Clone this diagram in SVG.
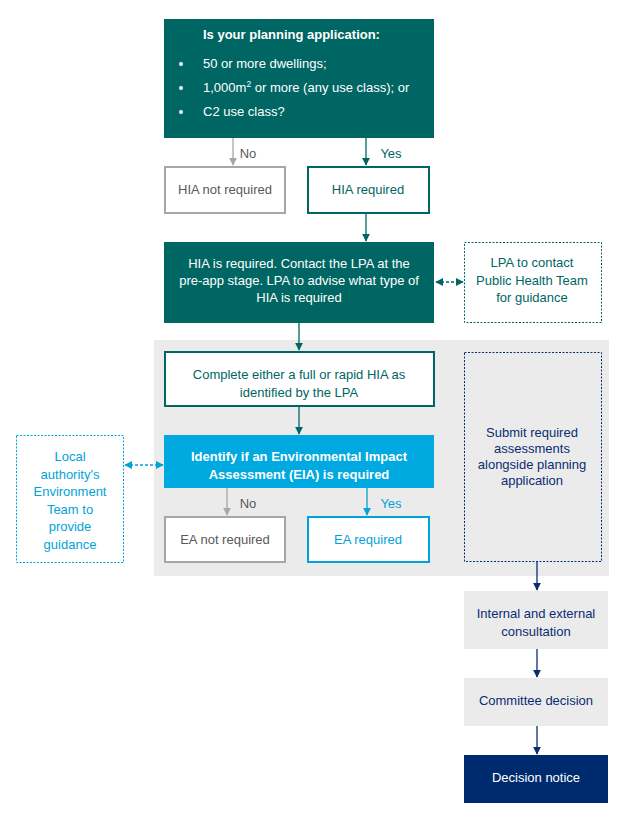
<svg xmlns="http://www.w3.org/2000/svg" width="623" height="819" viewBox="0 0 623 819">
<style>
text{font-family:"Liberation Sans",Arial,sans-serif;font-size:13px;text-anchor:middle}
.w{fill:#ffffff}
.t{fill:#006663}
.g{fill:#595959}
.b{fill:#00a3d9}
.n{fill:#0a2d72}
.bold{font-weight:bold}
</style>
<defs>
<marker id="aT" viewBox="0 0 10 10" refX="9" refY="5" markerWidth="6" markerHeight="6" orient="auto"><path d="M0,0L10,5L0,10z" fill="#006663"/></marker>
<marker id="aG" viewBox="0 0 10 10" refX="9" refY="5" markerWidth="6" markerHeight="6" orient="auto"><path d="M0,0L10,5L0,10z" fill="#a6a6a6"/></marker>
<marker id="aB" viewBox="0 0 10 10" refX="9" refY="5" markerWidth="6" markerHeight="6" orient="auto"><path d="M0,0L10,5L0,10z" fill="#00a3d9"/></marker>
<marker id="aN" viewBox="0 0 10 10" refX="9" refY="5" markerWidth="6" markerHeight="6" orient="auto"><path d="M0,0L10,5L0,10z" fill="#0a2d72"/></marker>
<marker id="aTs" viewBox="0 0 10 10" refX="1" refY="5" markerWidth="6" markerHeight="6" orient="auto"><path d="M10,0L0,5L10,10z" fill="#006663"/></marker>
<marker id="aBs" viewBox="0 0 10 10" refX="1" refY="5" markerWidth="6" markerHeight="6" orient="auto"><path d="M10,0L0,5L10,10z" fill="#00a3d9"/></marker>
</defs>
<rect id="bg-panel" x="154" y="340" width="455" height="236" fill="#ebebeb"/>
<g id="connectors" fill="none" stroke-width="1.3">
<line x1="233" y1="138" x2="233" y2="165" stroke="#a6a6a6" marker-end="url(#aG)"/>
<line x1="366" y1="138" x2="366" y2="165" stroke="#006663" marker-end="url(#aT)"/>
<line x1="366" y1="214" x2="366" y2="241" stroke="#006663" marker-end="url(#aT)"/>
<line x1="436" y1="282" x2="463" y2="282" stroke="#006663" stroke-dasharray="3,2" marker-start="url(#aTs)" marker-end="url(#aT)"/>
<line x1="299" y1="323" x2="299" y2="350" stroke="#006663" marker-end="url(#aT)"/>
<line x1="299" y1="407" x2="299" y2="434" stroke="#006663" marker-end="url(#aT)"/>
<line x1="125" y1="465" x2="163" y2="465" stroke="#00a3d9" stroke-dasharray="3,2" marker-start="url(#aBs)" marker-end="url(#aB)"/>
<line x1="227" y1="488" x2="227" y2="515" stroke="#a6a6a6" marker-end="url(#aG)"/>
<line x1="367" y1="488" x2="367" y2="515" stroke="#00a3d9" marker-end="url(#aB)"/>
<line x1="537" y1="562" x2="537" y2="590" stroke="#0a2d72" marker-end="url(#aN)"/>
<line x1="537" y1="649" x2="537" y2="677" stroke="#0a2d72" marker-end="url(#aN)"/>
<line x1="537" y1="726" x2="537" y2="754" stroke="#0a2d72" marker-end="url(#aN)"/>
</g>
<g id="labels">
<text x="248" y="158" class="g">No</text>
<text x="391" y="158" class="t">Yes</text>
<text x="248" y="508" class="g">No</text>
<text x="391" y="508" class="b">Yes</text>
</g>
<g id="question">
<rect x="164" y="19" width="270" height="119" fill="#006663"/>
<text x="203" y="39" class="w bold" style="text-anchor:start">Is your planning application:</text>
<circle cx="181" cy="64" r="2" fill="#ffffff"/>
<circle cx="181" cy="88" r="2" fill="#ffffff"/>
<circle cx="181" cy="112" r="2" fill="#ffffff"/>
<text x="203" y="68" class="w" style="text-anchor:start">50 or more dwellings;</text>
<text x="203" y="92" class="w" style="text-anchor:start">1,000m<tspan dy="-5" font-size="8.5">2</tspan><tspan dy="5"> or more (any use class); or</tspan></text>
<text x="203" y="116" class="w" style="text-anchor:start">C2 use class?</text>
</g>
<g id="hia-not-required">
<rect x="165" y="167" width="120" height="46" fill="#ffffff" stroke="#a6a6a6" stroke-width="2"/>
<text x="225" y="194" class="g">HIA not required</text>
</g>
<g id="hia-required">
<rect x="308" y="167" width="121" height="46" fill="#ffffff" stroke="#006663" stroke-width="2"/>
<text x="368" y="194" class="t">HIA required</text>
</g>
<g id="hia-contact">
<rect x="164" y="242" width="270" height="81" fill="#006663"/>
<text x="299" y="268" class="w">HIA is required.  Contact the LPA at the</text>
<text x="299" y="285" class="w">pre-app stage. LPA to advise what type of</text>
<text x="299" y="302" class="w">HIA is required</text>
</g>
<g id="lpa-contact">
<rect x="464.5" y="242.5" width="137" height="80" fill="#ffffff" stroke="#006663" stroke-dasharray="2,1.5"/>
<text x="532" y="267" class="t">LPA to contact</text>
<text x="532" y="285" class="t">Public Health Team</text>
<text x="532" y="302" class="t">for guidance</text>
</g>
<g id="complete-hia">
<rect x="165" y="352" width="269" height="54" fill="#ffffff" stroke="#006663" stroke-width="2"/>
<text x="299" y="379" class="t">Complete either a full or rapid HIA as</text>
<text x="299" y="397" class="t">identified by the LPA</text>
</g>
<g id="identify-eia">
<rect x="164" y="435" width="270" height="53" fill="#00a9e0"/>
<text x="299" y="461" class="w bold">Identify if an Environmental Impact</text>
<text x="299" y="479" class="w bold">Assessment (EIA) is required</text>
</g>
<g id="env-team">
<rect x="16.5" y="435.5" width="107" height="127" fill="#ffffff" stroke="#00a3d9" stroke-dasharray="2,1.5"/>
<text x="70" y="461" class="b">Local</text>
<text x="70" y="479" class="b">authority's</text>
<text x="70" y="496" class="b">Environment</text>
<text x="70" y="514" class="b">Team to</text>
<text x="70" y="531" class="b">provide</text>
<text x="70" y="549" class="b">guidance</text>
</g>
<g id="ea-not-required">
<rect x="165" y="517" width="120" height="45" fill="#ffffff" stroke="#a6a6a6" stroke-width="2"/>
<text x="225" y="544" class="g">EA not required</text>
</g>
<g id="ea-required">
<rect x="308" y="517" width="121" height="45" fill="#ffffff" stroke="#00a3d9" stroke-width="2"/>
<text x="368" y="544" class="b">EA required</text>
</g>
<g id="submit">
<rect x="464.5" y="352.5" width="137" height="209" fill="none" stroke="#0a2d72" stroke-dasharray="2,1.5"/>
<text x="532" y="437" class="n">Submit required</text>
<text x="532" y="453" class="n">assessments</text>
<text x="532" y="469" class="n">alongside planning</text>
<text x="532" y="485" class="n">application</text>
</g>
<g id="consultation">
<rect x="464" y="591" width="144" height="58" fill="#ebebeb"/>
<text x="536" y="618" class="n">Internal and external</text>
<text x="536" y="636" class="n">consultation</text>
</g>
<g id="committee">
<rect x="464" y="678" width="144" height="48" fill="#ebebeb"/>
<text x="536" y="705" class="n">Committee decision</text>
</g>
<g id="decision-notice">
<rect x="464" y="755" width="144" height="48" fill="#002a6e"/>
<text x="536" y="782" class="w">Decision notice</text>
</g>
</svg>
